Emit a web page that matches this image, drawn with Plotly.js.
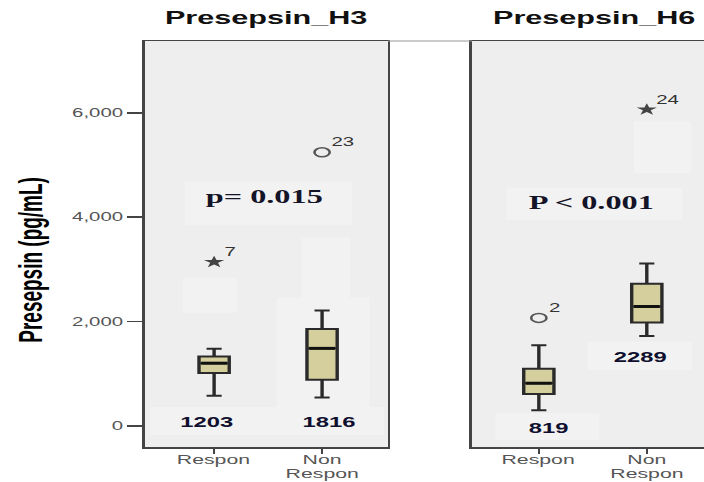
<!DOCTYPE html>
<html>
<head>
<meta charset="utf-8">
<script src="https://cdn.plot.ly/plotly-3.0.1.min.js"></script>
<style>
html, body { margin:0; padding:0; overflow:hidden; background:#fff; width:704px; height:482px; }
#chart { width:424px; height:482px; transform: scaleX(1.7); transform-origin: 0 0; }
</style>
</head>
<body>
<div id="chart"></div>
<script>
// ---- data ----
const categories = ["Respon", "Non Respon"];
const tickLines = [["Respon"], ["Non", "Respon"]];
const panelTitles = ["Presepsin_H3", "Presepsin_H6"];
const yTicks = [0, 2000, 4000, 6000];

// Presepsin_H3
const h3_q1 = [1013, 885];
const h3_median = [1203, 1487];
const h3_q3 = [1333, 1859];
const h3_lower = [577, 545];
const h3_upper = [1481, 2212];
const h3_outlierCat = ["Respon", "Non Respon"];
const h3_outlierVal = [3141, 5244];
const h3_outlierId = ["7", "23"];
const h3_outlierKind = ["extreme", "outlier"];
const h3_labels = ["1203", "1816"];
const h3_p = "p= 0.015";

// Presepsin_H6
const h6_q1 = [615, 1981];
const h6_median = [819, 2289];
const h6_q3 = [1096, 2724];
const h6_lower = [301, 1724];
const h6_upper = [1545, 3115];
const h6_outlierCat = ["Respon", "Non Respon"];
const h6_outlierVal = [2071, 6063];
const h6_outlierId = ["2", "24"];
const h6_outlierKind = ["outlier", "extreme"];
const h6_labels = ["819", "2289"];
const h6_p = "P &lt; 0.001";

// ---- styling ----
const boxFill = "#d4cf9c";
const boxLine = "#2a2a2a";
const tickColor = "#555555";
const boxWidth = 0.28;

function boxTrace(q1, med, q3, lo, hi, xa, ya) {
  return {
    type: "box", x: categories, q1: q1, median: med, q3: q3,
    lowerfence: lo, upperfence: hi, boxpoints: false,
    width: boxWidth, whiskerwidth: 0.5,
    fillcolor: boxFill, line: {color: boxLine, width: 2},
    xaxis: xa, yaxis: ya, hoverinfo: "skip"
  };
}
function medianShapes(med, xr, yr) {
  return med.map((m, i) => ({
    type: "line", xref: xr, yref: yr, x0: i - boxWidth / 2 + 0.02, x1: i + boxWidth / 2 - 0.02,
    y0: m, y1: m, line: {color: "#111", width: 3}, layer: "above"
  }));
}
function outlierTrace(cats, vals, kinds, xa, ya) {
  return cats.map((c, i) => ({
    type: "scatter", mode: "markers",
    x: [c], y: [vals[i]],
    marker: kinds[i] === "extreme"
      ? {symbol: "star", size: 9, color: "#444"}
      : {symbol: "circle-open", size: 9, color: "#555", line: {width: 1.5, color: "#555"}},
    xaxis: xa, yaxis: ya, hoverinfo: "skip", cliponaxis: false
  }));
}
function outlierLabels(cats, vals, ids, xr, yr) {
  return cats.map((c, i) => ({
    xref: xr, yref: yr, x: categories.indexOf(c), y: vals[i], text: ids[i],
    showarrow: false, xanchor: "left", yanchor: "middle", xshift: 4, yshift: 10,
    font: {family: "Liberation Sans", size: 12, color: "#333"}
  }));
}
function tickLabelAnns(xr) {
  const out = [];
  tickLines.forEach((lines, ci) => {
    lines.forEach((ln, li) => {
      out.push({xref: xr, yref: "paper", x: ci, y: -0.0320 - 0.0333 * li, text: ln,
        showarrow: false, xanchor: "center", yanchor: "middle", borderpad: 0,
        font: {family: "Liberation Sans", size: 12.5, color: tickColor}});
    });
  });
  return out;
}

const data = [
  boxTrace(h3_q1, h3_median, h3_q3, h3_lower, h3_upper, "x", "y"),
  boxTrace(h6_q1, h6_median, h6_q3, h6_lower, h6_upper, "x2", "y2"),
  ...outlierTrace(h3_outlierCat, h3_outlierVal, h3_outlierKind, "x", "y"),
  ...outlierTrace(h6_outlierCat, h6_outlierVal, h6_outlierKind, "x2", "y2")
];

const xCommon = {
  type: "category", showline: true, mirror: true, linecolor: "#444", linewidth: 1.5,
  ticks: "outside", ticklen: 5, tickwidth: 1.5, tickcolor: "#444",
  tickmode: "array", tickvals: categories, showticklabels: false,
  showgrid: false, zeroline: false, fixedrange: true
};
const yCommon = {
  range: [-403, 7377], showline: true, mirror: true, linecolor: "#444", linewidth: 1.5,
  showgrid: false, zeroline: false, fixedrange: true
};

const numFont = {family: "Liberation Sans", size: 14, weight: "bold", color: "#10102e"};
const pFont = {family: "Liberation Serif", size: 19, weight: "bold", color: "#141428"};
const titleFont = {family: "Liberation Sans", size: 18, weight: "bold", color: "#111"};

function rect(xr, yr, x0, x1, y0, y1) {
  return {type: "rect", xref: xr, yref: yr, x0: x0, x1: x1, y0: y0, y1: y1,
          fillcolor: "#f2f2f2", line: {width: 0}, layer: "below"};
}

const layout = {
  width: 424, height: 482,
  margin: {l: 0, r: 0, t: 41, b: 35},
  paper_bgcolor: "#ffffff", plot_bgcolor: "#eeeeee",
  showlegend: false,
  xaxis: Object.assign({}, xCommon, {domain: [0.2012, 0.5382], range: [-0.64, 1.61], anchor: "y"}),
  xaxis2: Object.assign({}, xCommon, {domain: [0.6547, 0.9917], range: [-0.62, 1.63], anchor: "y2"}),
  yaxis: Object.assign({}, yCommon, {
    anchor: "x", ticks: "outside", ticklen: 9, tickwidth: 1.5, tickcolor: "#444",
    tickmode: "array", tickvals: yTicks, tickformat: ",d",
    tickfont: {family: "Liberation Sans", size: 12, color: tickColor}
  }),
  yaxis2: Object.assign({}, yCommon, {anchor: "x2", showticklabels: false, ticks: ""}),
  shapes: [
    rect("x", "y", -0.27, 1.28, 3857, 4682),
    rect("x", "y", -0.29, 0.21, 2168, 2840),
    rect("x", "y", 0.81, 1.26, 2456, 3607),
    rect("x", "y", 0.58, 1.44, 365, 2456),
    rect("x", "y", -0.59, 1.57, -173, 365),
    rect("x2", "y2", -0.30, 1.33, 3952, 4566),
    rect("x2", "y2", 0.88, 1.41, 4848, 5838),
    rect("x2", "y2", 0.45, 1.42, 1074, 1617),
    rect("x2", "y2", -0.40, 0.56, -269, 243),
    {type: "line", xref: "paper", yref: "paper", x0: 0.5382, x1: 0.6547, y0: 1, y1: 1,
     line: {color: "#999", width: 1}},
    ...medianShapes(h3_median, "x", "y"),
    ...medianShapes(h6_median, "x2", "y2")
  ],
  annotations: [
    {xref: "paper", yref: "paper", x: (0.2012 + 0.5382) / 2, y: 1.0567, text: panelTitles[0],
     showarrow: false, font: titleFont, xanchor: "center", yanchor: "middle"},
    {xref: "paper", yref: "paper", x: (0.6547 + 0.9917) / 2, y: 1.0567, text: panelTitles[1],
     showarrow: false, font: titleFont, xanchor: "center", yanchor: "middle"},
    {xref: "paper", yref: "paper", x: 0.0443, y: 0.4606, text: "Presepsin (pg/mL)", textangle: -90,
     showarrow: false, font: {family: "Liberation Sans", size: 19, weight: "bold", color: "#000"},
     xanchor: "center", yanchor: "middle"},
    {xref: "x", yref: "y", x: 0.472, y: 4400, text: h3_p, showarrow: false, font: pFont},
    {xref: "x2", yref: "y2", x: 0.484, y: 4273, text: h6_p, showarrow: false, font: pFont},
    {xref: "x", yref: "y", x: -0.076, y: 71, text: h3_labels[0], showarrow: false, font: numFont},
    {xref: "x", yref: "y", x: 1.066, y: 71, text: h3_labels[1], showarrow: false, font: numFont},
    {xref: "x2", yref: "y2", x: 0.095, y: -33, text: h6_labels[0], showarrow: false, font: numFont},
    {xref: "x2", yref: "y2", x: 0.94, y: 1330, text: h6_labels[1], showarrow: false, font: numFont},
    ...outlierLabels(h3_outlierCat, h3_outlierVal, h3_outlierId, "x", "y"),
    ...outlierLabels(h6_outlierCat, h6_outlierVal, h6_outlierId, "x2", "y2"),
    ...tickLabelAnns("x"),
    ...tickLabelAnns("x2")
  ]
};

Plotly.newPlot("chart", data, layout, {staticPlot: true, displayModeBar: false});
</script>
</body>
</html>
